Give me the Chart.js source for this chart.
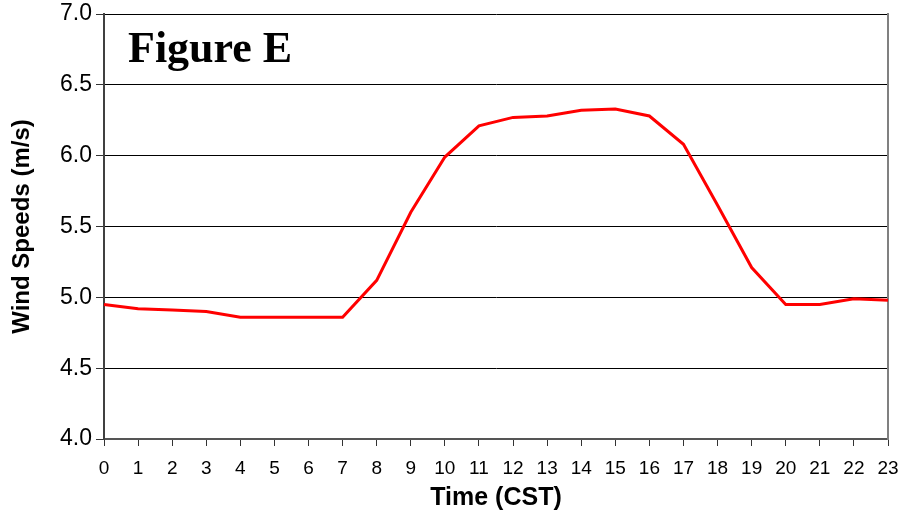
<!DOCTYPE html>
<html>
<head>
<meta charset="utf-8">
<script src="https://cdn.jsdelivr.net/npm/chart.js@4.4.1/dist/chart.umd.min.js"></script>
<style>
    html, body { margin: 0; padding: 0; background: #ffffff; }
    #wrap { width: 900px; height: 513px; position: relative; }
</style>
</head>
<body>
<div id="wrap"><canvas id="chart"></canvas></div>
<script>
const hours = ['0', '1', '2', '3', '4', '5', '6', '7', '8', '9', '10', '11',
    '12', '13', '14', '15', '16', '17', '18', '19', '20', '21', '22', '23'];
const windSpeeds = [4.95, 4.92, 4.91, 4.90, 4.86, 4.86, 4.86, 4.86, 5.12, 5.60, 5.99, 6.21,
    6.27, 6.28, 6.32, 6.33, 6.28, 6.08, 5.65, 5.21, 4.95, 4.95, 4.99, 4.98];
const figureLabel = 'Figure E';

const figureLabelPlugin = {
    id: 'figureLabel',
    afterDraw(chart) {
        const ctx = chart.ctx;
        ctx.save();
        ctx.font = 'bold 44px "Liberation Serif", "Times New Roman", serif';
        ctx.fillStyle = '#000000';
        ctx.textBaseline = 'alphabetic';
        ctx.fillText(figureLabel, chart.chartArea.left + 24, chart.chartArea.top + 48);
        ctx.restore();
    }
};

const sans = '"Liberation Sans", Arial, sans-serif';

new Chart(document.getElementById('chart').getContext('2d'), {
    type: 'line',
    data: {
        labels: hours,
        datasets: [
            {
                label: 'Wind Speeds',
                data: windSpeeds,
                borderColor: '#ff0000',
                borderWidth: 3,
                pointRadius: 0,
                tension: 0,
                fill: false
            }
        ]
    },
    options: {
        responsive: true,
        maintainAspectRatio: false,
        animation: false,
        layout: {
            padding: { top: 14, right: 12, left: 0, bottom: 0 }
        },
        plugins: {
            legend: { display: false },
            tooltip: { enabled: false }
        },
        scales: {
            x: {
                offset: false,
                afterFit: (scale) => {
                    scale.height = 74;
                    scale.paddingLeft = 0;
                    scale.paddingRight = 0;
                },
                ticks: {
                    color: '#000000',
                    font: { family: sans, size: 19 },
                    padding: 11,
                    maxRotation: 0,
                    autoSkip: false
                },
                grid: {
                    drawOnChartArea: false,
                    color: '#333333',
                    tickLength: 7
                },
                border: { color: '#555555', width: 2 },
                title: {
                    display: true,
                    text: 'Time (CST)',
                    color: '#000000',
                    font: { family: sans, size: 25, weight: 'bold' },
                    padding: { top: 0, bottom: 0 }
                }
            },
            y: {
                min: 4.0,
                max: 7.0,
                afterFit: (scale) => {
                    scale.width = 104;
                    scale.paddingTop = 0;
                    scale.paddingBottom = 0;
                },
                ticks: {
                    stepSize: 0.5,
                    color: '#000000',
                    font: { family: sans, size: 23 },
                    padding: 4,
                    callback: (value) => Number(value).toFixed(1)
                },
                grid: {
                    color: '#000000',
                    lineWidth: 1,
                    tickLength: 8,
                    tickColor: '#333333'
                },
                border: { color: '#404040', width: 2 },
                title: {
                    display: true,
                    text: 'Wind Speeds (m/s)',
                    color: '#000000',
                    font: { family: sans, size: 24, weight: 'bold' },
                    padding: { top: 8, bottom: 0 }
                }
            },
            yRight: {
                position: 'right',
                min: 4.0,
                max: 7.0,
                afterFit: (scale) => {
                    scale.width = 0;
                    scale.paddingTop = 0;
                    scale.paddingBottom = 0;
                },
                ticks: { display: false },
                grid: { display: false },
                border: { color: '#808080', width: 2 }
            }
        }
    },
    plugins: [figureLabelPlugin]
});
</script>
</body>
</html>
